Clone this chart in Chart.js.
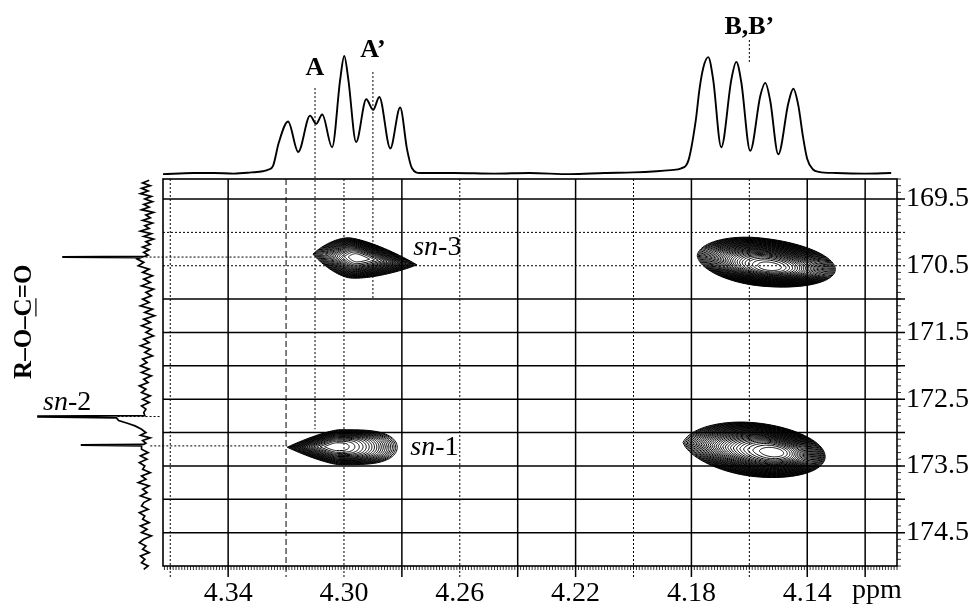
<!DOCTYPE html>
<html>
<head>
<meta charset="utf-8">
<script src="https://cdn.jsdelivr.net/npm/chart.js"></script>
<style>
  body { margin: 0; background: #fff; }
  #wrap { position: relative; width: 974px; height: 605px; }
  #wrap canvas { position: absolute; left: 0; top: 0; }
</style>
</head>
<body>
<div id="wrap">
  <canvas id="topSpec" width="974" height="605"></canvas>
  <canvas id="leftSpec" width="974" height="605"></canvas>
  <canvas id="hmbc" width="974" height="605"></canvas>
</div>
<script>
const FONT = '"Liberation Serif", "Times New Roman", serif';
const LABEL_PAD = 11;

// axes (ppm)
const hRange = [4.109, 4.3625];
const cRange = [169.2, 175.0];
const hTicks = [4.34, 4.30, 4.26, 4.22, 4.18, 4.14];
const cTicks = [169.5, 170.5, 171.5, 172.5, 173.5, 174.5];

// grid lines
const hGridSolid = [4.34, 4.28, 4.24, 4.22, 4.18, 4.14, 4.12];
const hGridDotted = [4.36, 4.30, 4.26, 4.20, 4.16];
const hGridDashed = [4.32];
const cGridSolid = [169.5, 171.0, 171.5, 172.0, 172.5, 173.0, 173.5, 174.0, 174.5];
const cGridDotted = [170.0, 170.5];

// 1H projection: [ppm, intensity]
const protonSpectrum = [
  [4.3625, -1], [4.352, 0], [4.345, 0], [4.338, -0.5], [4.332, 0.5], [4.328, 1.5], [4.326, 3],
  [4.3245, 6], [4.3225, 26], [4.3193, 44], [4.3158, 18], [4.3117, 49], [4.3096, 42],
  [4.3075, 50], [4.3041, 22], [4.3013, 80], [4.2999, 100], [4.2985, 80], [4.2958, 26.5],
  [4.2923, 63], [4.2899, 54], [4.2878, 65], [4.2840, 21], [4.2806, 56], [4.2782, 20],
  [4.2765, 4], [4.2737, 0],
  [4.262, 0], [4.248, -0.5], [4.236, 0], [4.222, -1], [4.210, 0], [4.200, 0.5], [4.192, 1.5],
  [4.187, 2.5], [4.1835, 4], [4.181, 11], [4.1785, 45], [4.1772, 72], [4.1759, 90],
  [4.1742, 99], [4.1725, 80], [4.1697, 22], [4.1662, 80], [4.1645, 95], [4.1628, 78],
  [4.1597, 19], [4.1562, 66], [4.1545, 77], [4.1528, 62], [4.1500, 16], [4.1465, 60],
  [4.1448, 72], [4.1431, 58], [4.1414, 30], [4.1400, 12], [4.1380, 3], [4.136, 1],
  [4.130, 0], [4.120, -0.5], [4.111, 0]
];

// 13C projection: [ppm, intensity]
const carbonSpectrum = [
  [169.22, -2], [169.26, 4], [169.30, -3], [169.34, 5], [169.38, -1], [169.42, 6], [169.46, -4],
  [169.50, 2], [169.54, -5], [169.58, 3], [169.62, -2], [169.66, 5], [169.70, -6], [169.74, 1],
  [169.78, -3], [169.82, 4], [169.86, -5], [169.90, 2], [169.94, -2], [169.98, 6], [170.02, -4],
  [170.06, 3], [170.10, -6], [170.14, 1], [170.18, -3], [170.22, 4], [170.26, -2], [170.30, 3],
  [170.34, -1], [170.36, 2], [170.366, 77], [170.372, 77], [170.38, 6],
  [170.40, 9], [170.45, 3], [170.50, 8], [170.55, -2], [170.60, 4], [170.65, -5], [170.70, 3],
  [170.75, -3], [170.80, 5], [170.85, -6], [170.90, 1], [170.95, -4], [171.00, 4], [171.05, -2],
  [171.10, 6], [171.15, -5], [171.20, 2], [171.25, -7], [171.30, 3], [171.35, -3], [171.40, 5],
  [171.45, -4], [171.50, 1], [171.55, -6], [171.60, 3], [171.65, -2], [171.70, 6], [171.75, -3],
  [171.80, 2], [171.85, -5], [171.90, 4], [171.95, 0], [172.00, 6], [172.05, -2], [172.10, 5],
  [172.15, -4], [172.20, 3], [172.25, -1], [172.30, 7], [172.35, 1], [172.40, 5], [172.45, -3],
  [172.50, 4], [172.55, -2], [172.60, 5], [172.65, 1], [172.70, 3], [172.745, 2],
  [172.755, 100], [172.765, 100], [172.78, 28], [172.82, 26], [172.86, 18], [172.90, 11],
  [172.95, 5], [173.00, 1], [173.04, 6], [173.08, -3], [173.12, 4], [173.16, 1], [173.178, 3],
  [173.183, 60], [173.19, 60], [173.20, 5],
  [173.25, 5], [173.30, -1], [173.35, 6], [173.40, 0], [173.45, 7], [173.50, 2], [173.55, 4],
  [173.60, -3], [173.65, 5], [173.70, 1], [173.75, 8], [173.80, -2], [173.85, 4], [173.90, 0],
  [173.95, 6], [174.00, -3], [174.05, 3], [174.10, 5], [174.15, -1], [174.20, 7], [174.25, 2],
  [174.30, 4], [174.35, -2], [174.40, 6], [174.45, 0], [174.50, 5], [174.55, -4], [174.60, 3],
  [174.65, 7], [174.70, 1], [174.75, 4], [174.80, -2], [174.85, 6], [174.90, 2], [174.95, 5],
  [175.00, -1], [175.05, 3]
];

// cross peaks: sn-3/A, sn-1/A, sn-3/B, sn-1/B
const crossH = [4.2979, 4.3013, 4.1562, 4.1580];
const crossC = [170.383, 173.22, 170.443, 173.257];
const crossInnerH = [4.2954, 4.3030, 4.1528, 4.1511];
const crossInnerC = [170.38, 173.21, 170.52, 173.30];
const crossLeft = [0.0128, 0.0183, 0.0218, 0.0249];
const crossRight = [0.0231, 0.0197, 0.0259, 0.0242];
const crossHalf = [0.30, 0.262, 0.36, 0.404];
const crossTilt = [-4.5, 0, -4.3, -4.3];
const crossLevels = [24, 20, 34, 34];

// multiplet labels over the 1H trace
const multipletText = ['A', 'A\u2019', 'B,B\u2019'];
const multipletH = [4.31, 4.29, 4.16];

// left/right tip sharpness of each contour set (1 = pointed, 0 = round, <0 = blunt)
const contourTips = [[0.5, 0.6], [0.7, -0.45], [0.05, 0], [0.15, 0]];

function line(ctx, x1, y1, x2, y2, dash, width) {
  ctx.save();
  ctx.setLineDash(dash || []);
  ctx.lineWidth = width || 1;
  ctx.beginPath();
  ctx.moveTo(x1, y1);
  ctx.lineTo(x2, y2);
  ctx.stroke();
  ctx.restore();
}

function snLabel(ctx, x, y, num) {
  ctx.textAlign = 'left';
  ctx.textBaseline = 'alphabetic';
  ctx.font = 'italic 28px ' + FONT;
  ctx.fillText('sn', x, y);
  const w = ctx.measureText('sn').width;
  ctx.font = '28px ' + FONT;
  ctx.fillText('-' + num, x + w, y);
}

const bareScales = (xr, yr, xrev, yrev) => ({
  x: { type: 'linear', display: false, min: xr[0], max: xr[1], reverse: xrev },
  y: { type: 'linear', display: false, min: yr[0], max: yr[1], reverse: yrev }
});

const baseOptions = {
  responsive: false,
  animation: false,
  events: [],
  plugins: { legend: { display: false }, tooltip: { enabled: false } }
};

// 1H projection across the top
const topChart = new Chart(document.getElementById('topSpec'), {
  type: 'line',
  data: {
    datasets: [{
      data: protonSpectrum.map(p => ({ x: p[0], y: p[1] })),
      borderColor: '#000',
      borderWidth: 1.9,
      pointRadius: 0,
      cubicInterpolationMode: 'monotone',
      clip: false
    }]
  },
  options: {
    ...baseOptions,
    layout: { padding: { left: 163, right: 77, top: 56, bottom: 432 } },
    scales: bareScales(hRange, [0, 100], true, false)
  }
});

// 13C projection down the left side
const leftChart = new Chart(document.getElementById('leftSpec'), {
  type: 'line',
  data: {
    datasets: [{
      data: carbonSpectrum.map(p => ({ x: p[1], y: p[0] })),
      borderColor: '#000',
      borderWidth: 1.7,
      pointRadius: 0,
      tension: 0,
      clip: false
    }]
  },
  options: {
    ...baseOptions,
    layout: { padding: { left: 38, right: 827, top: 179, bottom: 39 } },
    scales: bareScales([0, 100], cRange, true, true)
  },
  plugins: [{
    id: 'carbonLabels',
    afterDraw(chart) {
      const ctx = chart.ctx;
      const xs = chart.scales.x, ys = chart.scales.y;
      ctx.save();
      ctx.fillStyle = '#000';
      snLabel(ctx, xs.getPixelForValue(95.4), ys.getPixelForValue(172.659), 2);

      // R–O–C=O, written bottom to top with the carbonyl C underlined
      ctx.translate(xs.getPixelForValue(112), ys.getPixelForValue(171.34));
      ctx.rotate(-Math.PI / 2);
      ctx.font = 'bold 25px ' + FONT;
      ctx.textBaseline = 'middle';
      ctx.textAlign = 'left';
      const txt = 'R\u2013O\u2013C=O';
      const total = ctx.measureText(txt).width;
      const pre = ctx.measureText('R\u2013O\u2013').width;
      const cw = ctx.measureText('C').width;
      ctx.fillText(txt, -total / 2, 0);
      ctx.strokeStyle = '#000';
      line(ctx, -total / 2 + pre, 11, -total / 2 + pre + cw, 11, [], 1.2);
      ctx.restore();
    }
  }]
});

function drawRing(ctx, xs, ys, i, s) {
  const hc = crossInnerH[i] + (crossH[i] - crossInnerH[i]) * s;
  const cc = crossInnerC[i] + (crossC[i] - crossInnerC[i]) * s;
  const [tipL, tipR] = contourTips[i];
  ctx.beginPath();
  for (let j = 0; j <= 80; j++) {
    const t = j / 80 * 2 * Math.PI;
    const ct = Math.cos(t), st = Math.sin(t);
    const left = ct < 0;
    const tip = left ? tipL : tipR;
    const w = (left ? crossLeft[i] : crossRight[i]) * s;
    const f = tip >= 0
      ? (1 - tip) * Math.abs(ct) + tip * (1 - Math.abs(st))
      : Math.pow(Math.abs(ct), 1 + tip);
    const h = hc + (left ? 1 : -1) * w * f;
    const c = cc + crossHalf[i] * s * st + crossTilt[i] * (h - hc);
    const px = xs.getPixelForValue(h), py = ys.getPixelForValue(c);
    if (j === 0) ctx.moveTo(px, py); else ctx.lineTo(px, py);
  }
  ctx.closePath();
  ctx.stroke();
}

const hmbcPlugin = {
  id: 'hmbcGrid',
  afterDraw(chart) {
    const ctx = chart.ctx;
    const xs = chart.scales.x, ys = chart.scales.y;
    const a = chart.chartArea;
    const tY = topChart.scales.y, lX = leftChart.scales.x;
    const DOT = [2, 2], DASH = [6, 3];
    ctx.save();
    ctx.strokeStyle = '#000';

    // vertical grid
    hGridSolid.forEach(v => { const x = xs.getPixelForValue(v); line(ctx, x, a.top, x, a.bottom + 11, [], 1.5); });
    hGridDotted.forEach(v => { const x = xs.getPixelForValue(v); line(ctx, x, a.top, x, a.bottom + 11, DOT, 1); });
    hGridDashed.forEach(v => { const x = xs.getPixelForValue(v); line(ctx, x, a.top, x, a.bottom + 11, DASH, 1); });

    // horizontal grid
    cGridSolid.forEach(v => { const y = ys.getPixelForValue(v); line(ctx, a.left, y, a.right + 8, y, [], 1.5); });
    cGridDotted.forEach(v => { const y = ys.getPixelForValue(v); line(ctx, a.left, y, a.right + 8, y, DOT, 1); });

    // minor ticks
    for (let k = Math.ceil(hRange[0] * 1000); k <= Math.floor(hRange[1] * 1000); k++) {
      const x = xs.getPixelForValue(k / 1000);
      line(ctx, x, a.bottom, x, a.bottom + 4, [], 0.8);
    }
    for (let k = Math.ceil(cRange[0] * 10); k <= Math.floor(cRange[1] * 10); k++) {
      const y = ys.getPixelForValue(k / 10);
      line(ctx, a.right, y, a.right + 4, y, [], 0.8);
    }

    // frame
    ctx.lineWidth = 1.6;
    ctx.setLineDash([]);
    ctx.strokeRect(a.left, a.top, a.right - a.left, a.bottom - a.top);

    // peak markers from the 1H trace
    const aX = xs.getPixelForValue(multipletH[0]);
    line(ctx, aX, tY.getPixelForValue(72.6), aX, ys.getPixelForValue(172.95), DOT, 1);
    const apX = xs.getPixelForValue(multipletH[1]);
    line(ctx, apX, tY.getPixelForValue(86.3), apX, ys.getPixelForValue(171.0), DOT, 1);
    const bX = xs.getPixelForValue(multipletH[2]);
    line(ctx, bX, tY.getPixelForValue(113.7), bX, tY.getPixelForValue(94), DOT, 1);

    // peak markers from the 13C trace
    line(ctx, lX.getPixelForValue(5), ys.getPixelForValue(170.37), xs.getPixelForValue(4.3106), ys.getPixelForValue(170.37), DOT, 1);
    line(ctx, lX.getPixelForValue(27), ys.getPixelForValue(172.76), lX.getPixelForValue(-12), ys.getPixelForValue(172.76), DOT, 1);
    line(ctx, lX.getPixelForValue(-3), ys.getPixelForValue(173.2), xs.getPixelForValue(4.3196), ys.getPixelForValue(173.2), DOT, 1);

    // contour sets
    ctx.lineWidth = 1;
    ctx.setLineDash([]);
    crossH.forEach((_, i) => {
      const n = crossLevels[i];
      for (let k = 0; k < n; k++) drawRing(ctx, xs, ys, i, Math.sqrt(1 - k / n));
    });

    // labels
    ctx.fillStyle = '#000';
    ctx.font = 'bold 26px ' + FONT;
    ctx.textAlign = 'center';
    ctx.textBaseline = 'middle';
    ctx.fillText(multipletText[0], aX, tY.getPixelForValue(89.7));
    ctx.fillText(multipletText[1], apX, tY.getPixelForValue(105));
    ctx.fillText(multipletText[2], bX, tY.getPixelForValue(124.8));

    snLabel(ctx, xs.getPixelForValue(4.2761), ys.getPixelForValue(170.338), 3);
    snLabel(ctx, xs.getPixelForValue(4.2771), ys.getPixelForValue(173.332), 1);

    ctx.font = '28px ' + FONT;
    ctx.textAlign = 'center';
    ctx.textBaseline = 'top';
    ctx.fillText('ppm', a.right - 20, a.bottom + LABEL_PAD);
    ctx.restore();
  }
};

const tickFont = { family: FONT, size: 28 };

const mainChart = new Chart(document.getElementById('hmbc'), {
  type: 'scatter',
  data: { datasets: [] },
  options: {
    ...baseOptions,
    layout: { padding: { left: 163, top: 179, right: 0, bottom: 0 } },
    scales: {
      x: {
        type: 'linear', position: 'bottom', reverse: true,
        min: hRange[0], max: hRange[1],
        grid: { display: false, drawTicks: false },
        border: { display: false },
        afterBuildTicks: s => { s.ticks = hTicks.map(v => ({ value: v })); },
        afterFit: s => { s.height = 39; },
        ticks: {
          autoSkip: false, maxRotation: 0, minRotation: 0,
          padding: LABEL_PAD, color: '#000', font: tickFont,
          callback: v => Number(v).toFixed(2)
        }
      },
      y: {
        type: 'linear', position: 'right', reverse: true,
        min: cRange[0], max: cRange[1],
        grid: { display: false, drawTicks: false },
        border: { display: false },
        afterBuildTicks: s => { s.ticks = cTicks.map(v => ({ value: v })); },
        afterFit: s => { s.width = 77; },
        ticks: {
          autoSkip: false, padding: 9, color: '#000', font: tickFont,
          callback: v => Number(v).toFixed(1)
        }
      }
    }
  },
  plugins: [hmbcPlugin]
});
</script>
</body>
</html>
